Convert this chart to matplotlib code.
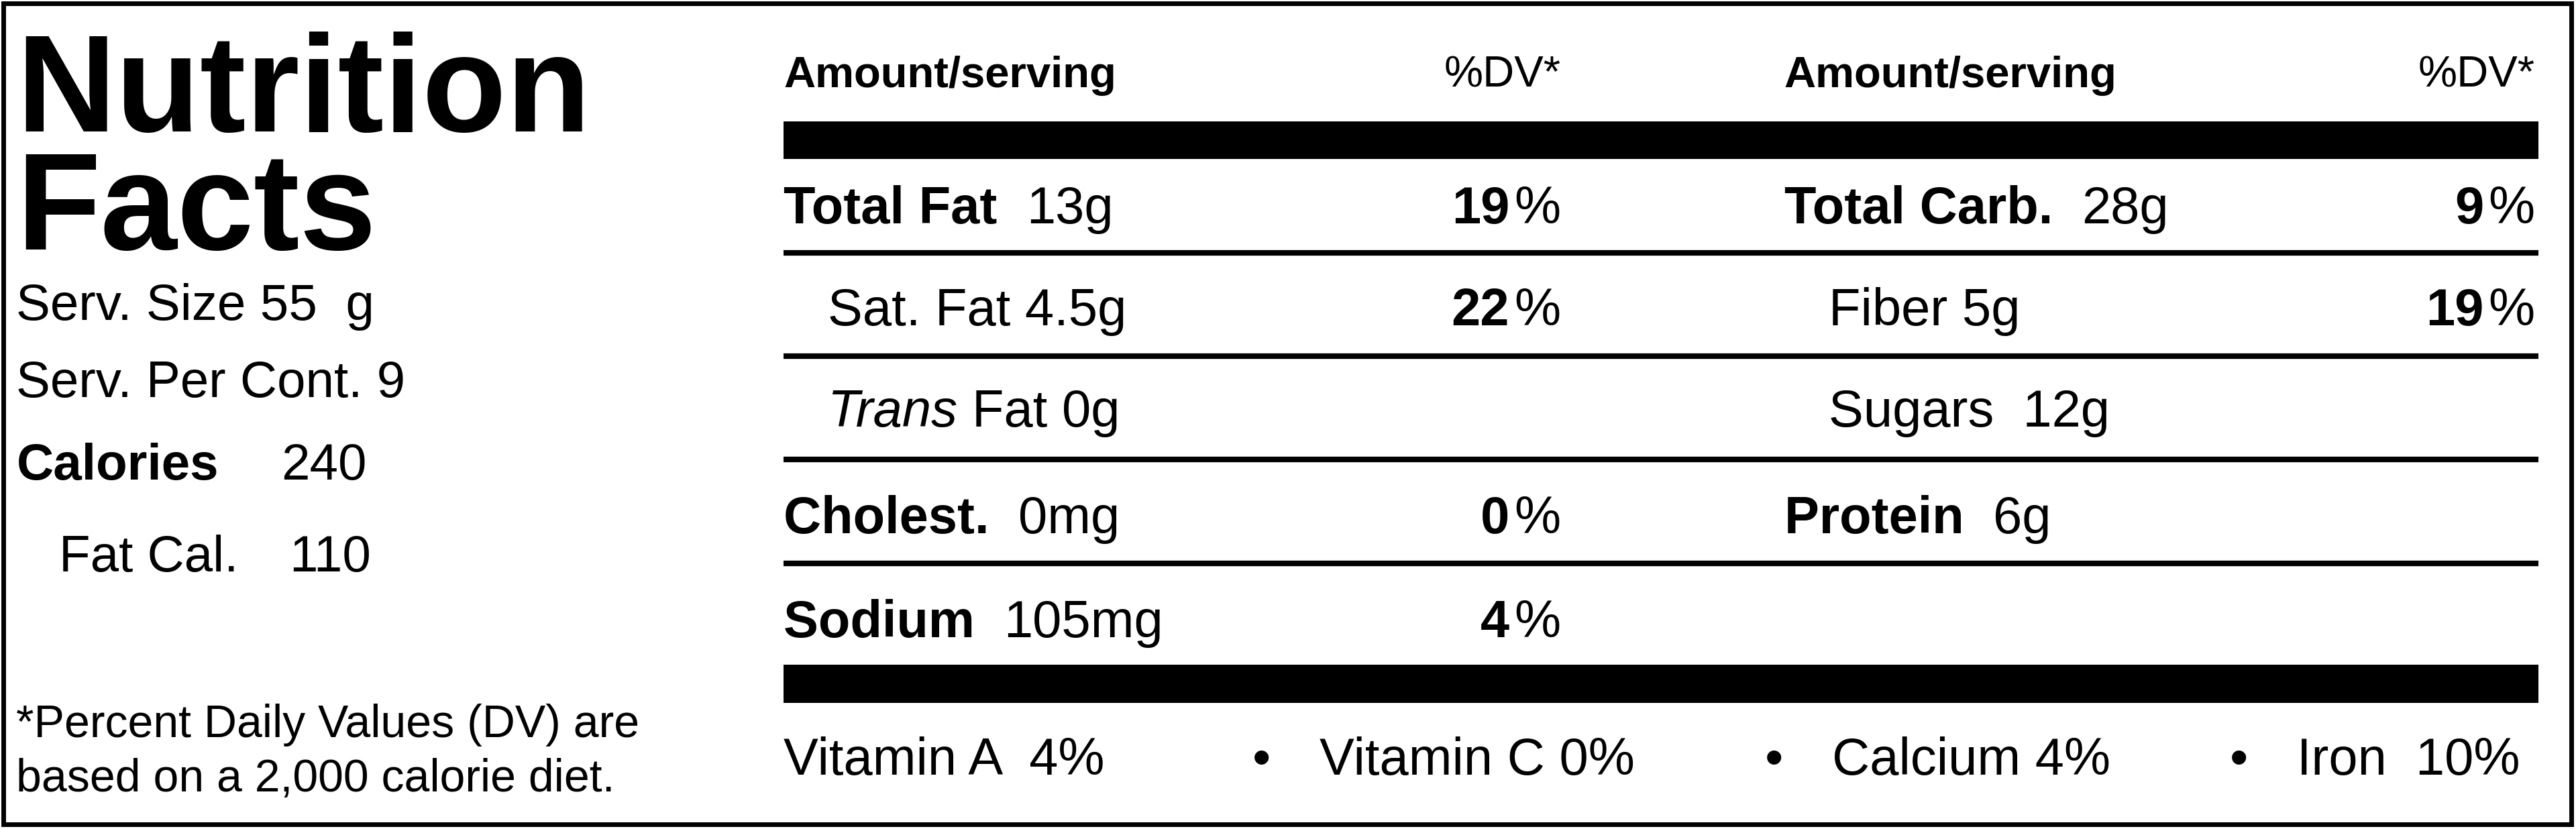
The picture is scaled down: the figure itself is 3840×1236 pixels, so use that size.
import matplotlib
matplotlib.use('Agg')
import matplotlib.pyplot as plt

plt.rcParams['font.family'] = ['Liberation Sans', 'DejaVu Sans']

# panel data
left_lines = ['Serv. Size 55  g', 'Serv. Per Cont. 9']
calories = ('Calories', '240')
fat_cal = ('Fat Cal.', '110')
footnote = ['*Percent Daily Values (DV) are', 'based on a 2,000 calorie diet.']

# (bold label, normal amount, indent, italic prefix, %DV)
left_rows = [
    ('Total Fat', '13g', 0, '', '19'),
    ('', 'Sat. Fat 4.5g', 1, '', '22'),
    ('', 'Fat 0g', 1, 'Trans', ''),
    ('Cholest.', '0mg', 0, '', '0'),
    ('Sodium', '105mg', 0, '', '4'),
]
right_rows = [
    ('Total Carb.', '28g', 0, '', '9'),
    ('', 'Fiber 5g', 1, '', '19'),
    ('', 'Sugars  12g', 1, '', ''),
    ('Protein', '6g', 0, '', ''),
]
vitamins = ['Vitamin A  4%', 'Vitamin C 0%', 'Calcium 4%', 'Iron  10%']

W, H = 1568, 505
fig = plt.figure(figsize=(38.4, 12.36), dpi=100)
ax = fig.add_axes([0, 0, 1, 1])
ax.set_xlim(0, W)
ax.set_ylim(H, 0)
ax.axis('off')

ax.add_patch(plt.Rectangle((2, 2), W - 5, H - 5, fill=False, lw=5, ec='black'))

# left panel
ax.text(10, 80, 'Nutrition', fontsize=148, fontweight='bold', va='baseline')
ax.text(10, 152, 'Facts', fontsize=148, fontweight='bold', va='baseline')
ax.text(10, 195, left_lines[0], fontsize=55, va='baseline')
ax.text(10, 242, left_lines[1], fontsize=55, va='baseline')
ax.text(10, 292, calories[0], fontsize=55, fontweight='bold', va='baseline')
ax.text(171, 292, calories[1], fontsize=55, va='baseline')
ax.text(36, 348, fat_cal[0], fontsize=55, va='baseline')
ax.text(176, 348, fat_cal[1], fontsize=55, va='baseline')
ax.text(10, 449, footnote[0], fontsize=49, va='baseline')
ax.text(10, 482, footnote[1], fontsize=49, va='baseline')

# headers
for x0, x1 in [(477, 950), (1086, 1543)]:
    ax.text(x0, 53, 'Amount/serving', fontsize=47, fontweight='bold', va='baseline')
    ax.text(x1, 53, '%DV*', fontsize=47, ha='right', va='baseline')

ax.add_patch(plt.Rectangle((477, 74), 1068, 23, color='black', lw=0))
ax.add_patch(plt.Rectangle((477, 405), 1068, 23, color='black', lw=0))
for y in [154, 217, 280, 343]:
    ax.plot([477, 1545], [y, y], color='black', lw=6, solid_capstyle='butt')

baselines = [136, 198, 260, 325, 388]
FS = 56

def draw_rows(rows, x0, x1):
    for (bold, amt, indent, ital, dv), y in zip(rows, baselines):
        x = x0 + 27 * indent
        t = None
        if bold:
            t = ax.text(x, y, bold + '  ', fontsize=FS, fontweight='bold', va='baseline')
        elif ital:
            t = ax.text(x, y, ital + ' ', fontsize=FS, style='italic', va='baseline')
        if t is not None:
            fig.canvas.draw()
            bb = t.get_window_extent().transformed(ax.transData.inverted())
            x = bb.x1
        ax.text(x, y, amt, fontsize=FS, va='baseline')
        if dv:
            p = ax.text(x1, y, '%', fontsize=FS, ha='right', va='baseline')
            fig.canvas.draw()
            bb = p.get_window_extent().transformed(ax.transData.inverted())
            ax.text(bb.x0 - 3, y, dv, fontsize=FS, fontweight='bold', ha='right', va='baseline')

draw_rows(left_rows, 477, 950)
draw_rows(right_rows, 1086, 1543)

# vitamins row
vit_x = [477, 803, 1115, 1398]
for x, v in zip(vit_x, vitamins):
    ax.text(x, 472, v, fontsize=FS, va='baseline')
for x in [768, 1080, 1363]:
    ax.text(x, 472, '•', fontsize=FS, ha='center', va='baseline')

fig.savefig('out.png', dpi=100)
